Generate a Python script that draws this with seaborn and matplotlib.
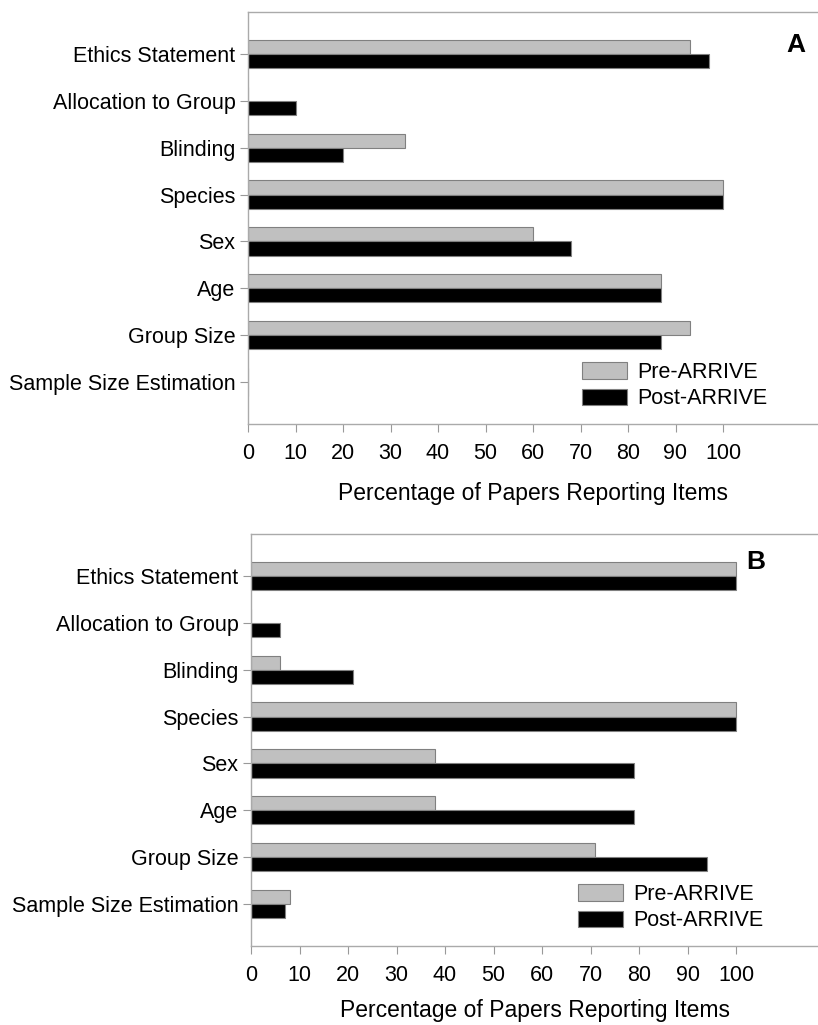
import matplotlib
matplotlib.use("Agg")
import matplotlib.pyplot as plt
import seaborn as sns
import pandas as pd

categories = ["Ethics Statement", "Allocation to Group", "Blinding", "Species",
              "Sex", "Age", "Group Size", "Sample Size Estimation"]
series = ["Pre-ARRIVE", "Post-ARRIVE"]
a_pre = [93, 0, 33, 100, 60, 87, 93, 0]
a_post = [97, 10, 20, 100, 68, 87, 87, 0]
b_pre = [100, 0, 6, 100, 38, 38, 71, 8]
b_post = [100, 6, 21, 100, 79, 79, 94, 7]
xticks = [0, 10, 20, 30, 40, 50, 60, 70, 80, 90, 100]
xlabel = "Percentage of Papers Reporting Items"

sns.set_theme(style="white")
plt.rcParams['font.family'] = ['Liberation Sans', 'DejaVu Sans']
plt.rcParams['text.color'] = 'black'
plt.rcParams['axes.labelcolor'] = 'black'
plt.rcParams['xtick.color'] = 'black'
plt.rcParams['ytick.color'] = 'black'

fig = plt.figure(figsize=(8.18, 10.25), dpi=100)
axA = fig.add_axes([248/818, 1-424/1025, 570/818, 412/1025])
axB = fig.add_axes([251/818, 1-946/1025, 567/818, 412/1025])

palette = {"Pre-ARRIVE": "#c0c0c0", "Post-ARRIVE": "#000000"}
FS = 15.5

def make_df(pre, post):
    rows = []
    for c, v in zip(categories, pre):
        rows.append({"item": c, "series": "Pre-ARRIVE", "value": v})
    for c, v in zip(categories, post):
        rows.append({"item": c, "series": "Post-ARRIVE", "value": v})
    return pd.DataFrame(rows)

def draw(ax, pre, post, xmax, letter, lx, ly, legx, labelpad):
    df = make_df(pre, post)
    sns.barplot(data=df, x="value", y="item", hue="series", order=categories,
                hue_order=series, palette=palette, orient="h", width=0.6,
                ax=ax, edgecolor="#808080", linewidth=0.8, saturation=1)
    ax.set_xlim(0, xmax)
    ax.set_ylim(len(categories) - 1 + 0.89, -0.89)
    ax.set_xticks(xticks)
    ax.set_xticklabels([str(t) for t in xticks], fontsize=FS, color="black")
    ax.set_yticks(range(len(categories)))
    ax.set_yticklabels(categories, fontsize=FS, color="black")
    ax.set_ylabel("")
    ax.set_xlabel(xlabel, fontsize=16.5, labelpad=labelpad, color="black")
    ax.tick_params(axis="both", which="both", length=6, width=0.8, color="#999999",
                   direction="out", bottom=True, left=True)
    ax.tick_params(axis="x", pad=8)
    ax.tick_params(axis="y", pad=3)
    for s in ["top", "left", "bottom"]:
        ax.spines[s].set_visible(True)
        ax.spines[s].set_color("#aaaaaa")
        ax.spines[s].set_linewidth(1.0)
    ax.spines["right"].set_visible(False)
    handles, labels = ax.get_legend_handles_labels()
    leg = ax.legend(handles, labels, loc="center left", bbox_to_anchor=(legx, 0.093),
                    frameon=False, fontsize=FS, handlelength=2.1, handleheight=0.8,
                    handletextpad=0.45, labelspacing=0.25, borderpad=0, borderaxespad=0)
    for t in leg.get_texts():
        t.set_color("black")
    ax.text(lx, ly, letter, transform=ax.transAxes, fontsize=19, fontweight="bold",
            ha="center", va="center", color="black")

draw(axA, a_pre, a_post, 120.0, "A", 0.961, 0.92, 0.586, 13)
draw(axB, b_pre, b_post, 116.9, "B", 0.89, 0.932, 0.577, 9)

fig.savefig("out.png", dpi=100)
